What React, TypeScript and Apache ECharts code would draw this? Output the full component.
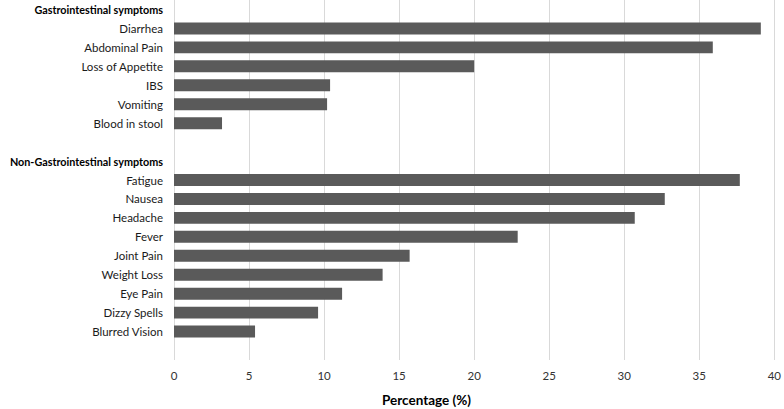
import React, { useEffect, useRef } from "react";
import * as echarts from "echarts";

const categories: string[] = [
  "Gastrointestinal symptoms",
  "Diarrhea",
  "Abdominal Pain",
  "Loss of Appetite",
  "IBS",
  "Vomiting",
  "Blood in stool",
  " ",
  "Non-Gastrointestinal symptoms",
  "Fatigue",
  "Nausea",
  "Headache",
  "Fever",
  "Joint Pain",
  "Weight Loss",
  "Eye Pain",
  "Dizzy Spells",
  "Blurred Vision",
  "  ",
];

const headers: string[] = ["Gastrointestinal symptoms", "Non-Gastrointestinal symptoms"];

const values: (number | null)[] = [
  null, 39.1, 35.9, 20.0, 10.4, 10.2, 3.2,
  null,
  null, 37.7, 32.7, 30.7, 22.9, 15.7, 13.9, 11.2, 9.6, 5.4,
  null,
];

const xTicks = { min: 0, max: 40, interval: 5 };
const axisTitle = "Percentage (%)";

export default function App() {
  const ref = useRef<HTMLDivElement>(null);
  useEffect(() => {
    if (!ref.current) return;
    const chart = echarts.init(ref.current, undefined, { renderer: "svg" });
    const font = "Lato, 'Open Sans', sans-serif";
    chart.setOption({
      animation: false,
      textStyle: { fontFamily: font },
      grid: { left: 174, right: 7, top: 0, bottom: 49, containLabel: false },
      xAxis: {
        type: "value",
        min: xTicks.min,
        max: xTicks.max,
        interval: xTicks.interval,
        axisLine: { show: false },
        axisTick: { show: false },
        axisLabel: { color: "#333", fontSize: 11.5, margin: 9, fontFamily: font },
        splitLine: { show: true, lineStyle: { color: "#d9d9d9", width: 1 } },
      },
      yAxis: {
        type: "category",
        inverse: true,
        data: categories,
        axisLine: { show: false },
        axisTick: { show: false },
        axisLabel: {
          interval: 0,
          margin: 11,
          color: "#1a1a1a",
          fontSize: 11.5,
          fontFamily: font,
          formatter: (v: string) => (headers.includes(v) ? `{h|${v}}` : v),
          rich: {
            h: { fontWeight: "bold", color: "#000", fontSize: 10.8, fontFamily: font },
          },
        },
      },
      series: [
        {
          type: "bar",
          data: values,
          barWidth: "63%",
          itemStyle: { color: "#5a5a5a" },
        },
      ],
      graphic: [
        {
          type: "text",
          left: 382,
          top: 393,
          style: {
            text: axisTitle,
            fill: "#000",
            font: `bold 13.5px ${font}`,
          },
        },
      ],
    });
    return () => chart.dispose();
  }, []);
  return <div ref={ref} style={{ width: 784, height: 409, position: "absolute", left: 0, top: 0 }} />;
}
